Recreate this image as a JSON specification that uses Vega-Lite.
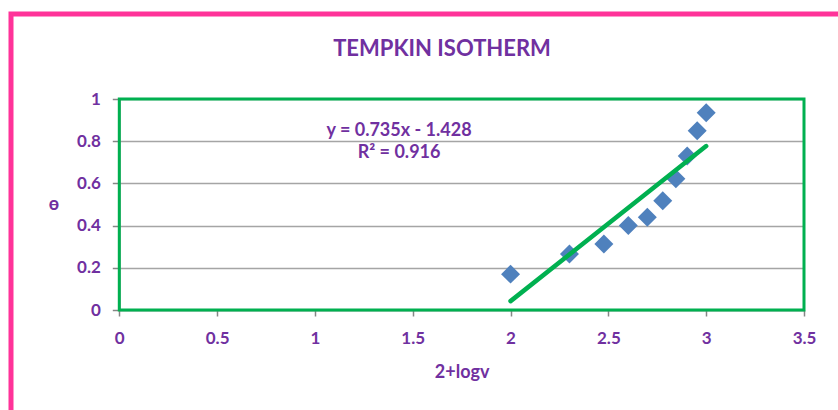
{
  "$schema": "https://vega.github.io/schema/vega-lite/v6.json",
  "width": 862,
  "height": 420,
  "autosize": {"type": "none"},
  "padding": {"left": 11, "top": 14, "right": 0, "bottom": 0},
  "background": "white",
  "config": {"view": {"stroke": "#FF3399", "strokeWidth": 5}, "font": "Lato"},
  "title": {"text": "TEMPKIN ISOTHERM", "font": "Lato", "fontSize": 22, "fontWeight": "bold", "color": "#7030A0", "anchor": "middle", "frame": "group", "offset": -64, "baseline": "alphabetic"},
  "datasets": {
    "points": [
      {"x": 2.0, "y": 0.17},
      {"x": 2.301, "y": 0.265},
      {"x": 2.477, "y": 0.313},
      {"x": 2.602, "y": 0.40},
      {"x": 2.699, "y": 0.44},
      {"x": 2.778, "y": 0.518},
      {"x": 2.845, "y": 0.622},
      {"x": 2.903, "y": 0.73},
      {"x": 2.954, "y": 0.85},
      {"x": 3.0, "y": 0.935}
    ],
    "trend": [
      {"x": 2.0, "y": 0.042},
      {"x": 3.0, "y": 0.777}
    ]
  },
  "layer": [
    {
      "data": {"values": [{}]},
      "mark": {"type": "rect", "fill": "transparent", "stroke": "#00B050", "strokeWidth": 3},
      "encoding": {
        "x": {
          "datum": 0, "type": "quantitative",
          "scale": {"domain": [0, 3.5], "range": [108.3, 793], "nice": false, "zero": false},
          "axis": {"title": "2+logv", "values": [0, 0.5, 1, 1.5, 2, 2.5, 3, 3.5], "format": "~g", "orient": "bottom", "offset": -124, "grid": false,
            "domainColor": "#868686", "domainWidth": 1.5, "tickColor": "#868686", "tickWidth": 1.5, "tickSize": 6,
            "labelFont": "Lato", "labelFontSize": 17, "labelFontWeight": "bold", "labelColor": "#7030A0", "labelPadding": 14, "labelFlush": false, "labelOverlap": false,
            "titleFont": "Lato", "titleFontSize": 18, "titleFontWeight": "bold", "titleColor": "#7030A0", "titlePadding": 17}
        },
        "x2": {"datum": 3.5},
        "y": {
          "datum": 0, "type": "quantitative",
          "scale": {"domain": [0, 1], "range": [296, 85], "nice": false, "zero": false},
          "axis": {"title": "ɵ", "values": [0, 0.2, 0.4, 0.6, 0.8, 1], "format": "~g", "orient": "left", "offset": -108.3, "grid": true, "gridColor": "#A5A5A5", "gridWidth": 1.5,
            "domainColor": "#868686", "domainWidth": 1.5, "tickColor": "#868686", "tickWidth": 1.5, "tickSize": 7,
            "labelFont": "Lato", "labelFontSize": 17, "labelFontWeight": "bold", "labelColor": "#7030A0", "labelPadding": 12, "labelFlush": false, "labelOverlap": false,
            "titleFont": "Lato", "titleFontSize": 18, "titleFontWeight": "bold", "titleColor": "#7030A0", "titleAngle": 0, "titlePadding": 23, "titleBaseline": "middle"}
        },
        "y2": {"datum": 1}
      }
    },
    {
      "data": {"name": "points"},
      "mark": {"type": "point", "shape": "diamond", "filled": true, "size": 360, "color": "#4F81BD", "opacity": 1},
      "encoding": {
        "x": {"field": "x", "type": "quantitative"},
        "y": {"field": "y", "type": "quantitative"}
      }
    },
    {
      "data": {"name": "trend"},
      "mark": {"type": "line", "color": "#00B050", "strokeWidth": 4.5, "strokeCap": "round"},
      "encoding": {
        "x": {"field": "x", "type": "quantitative"},
        "y": {"field": "y", "type": "quantitative"}
      }
    },
    {
      "data": {"values": [{}]},
      "mark": {"type": "text", "font": "Lato", "fontSize": 18, "fontWeight": "bold", "color": "#7030A0", "align": "center", "baseline": "middle", "lineHeight": 22},
      "encoding": {
        "x": {"datum": 1.43, "type": "quantitative"},
        "y": {"datum": 0.847, "type": "quantitative"},
        "text": {"value": ["y = 0.735x - 1.428", "R² = 0.916"]}
      }
    }
  ]
}
